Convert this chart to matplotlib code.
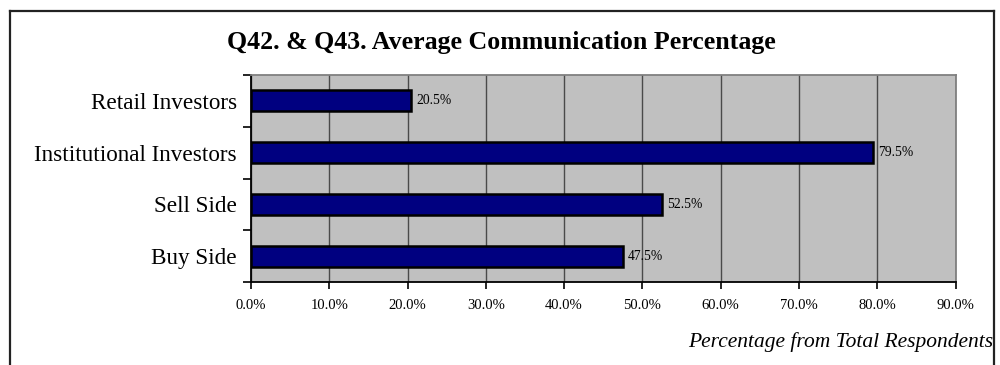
import matplotlib
matplotlib.use("Agg")
import matplotlib.pyplot as plt
from matplotlib.lines import Line2D
from matplotlib.ticker import MultipleLocator, FuncFormatter

categories = ["Retail Investors", "Institutional Investors", "Sell Side", "Buy Side"]
values = [20.5, 79.5, 52.5, 47.5]
title = "Q42. & Q43. Average Communication Percentage"
xlabel = "Percentage from Total Respondents"

plt.rcParams["font.family"] = ["Liberation Serif", "DejaVu Serif"]

W, H = 1000, 365
fig = plt.figure(figsize=(W / 100, H / 100), dpi=100)
fig.patch.set_facecolor("white")

# chart frame (open at the bottom)
frame_kw = dict(color="#222222", linewidth=1.6, transform=fig.transFigure)
fig.add_artist(Line2D([10 / W, 10 / W], [0, 1 - 11 / H], **frame_kw))
fig.add_artist(Line2D([10 / W, 994 / W], [1 - 11 / H, 1 - 11 / H], **frame_kw))
fig.add_artist(Line2D([994 / W, 994 / W], [0, 1 - 11 / H], **frame_kw))

left, right = 251 / W, 955.5 / W
top, bottom = 1 - 75 / H, 1 - 282 / H
ax = fig.add_axes([left, bottom, right - left, top - bottom])
ax.set_facecolor("#C0C0C0")

ypos = list(range(len(categories)))
ax.barh(ypos, values, height=0.41, color="#000080", edgecolor="black",
        linewidth=1.8, zorder=3)
for y, v in zip(ypos, values):
    ax.text(v + 0.6, y, f"{v:.1f}%", va="center", ha="left", fontsize=9.8,
            color="black", zorder=4)

ax.set_xlim(0, 90)
ax.set_ylim(len(categories) - 0.5, -0.5)
ax.xaxis.set_major_locator(MultipleLocator(10))
ax.xaxis.set_major_formatter(FuncFormatter(lambda x, p: f"{x:.1f}%"))
ax.grid(axis="x", color="#4a4a4a", linewidth=1.0, zorder=1)

# category ticks at band boundaries, labels centred on bars
ax.set_yticks([i - 0.5 for i in range(len(categories) + 1)])
ax.set_yticklabels([])
ax.set_yticks(ypos, minor=True)
ax.set_yticklabels(categories, minor=True, fontsize=16.7)
ax.tick_params(axis="y", which="minor", length=0, pad=10)
ax.tick_params(axis="y", which="major", length=5.5, width=1.2, direction="out")
ax.tick_params(axis="x", length=5, width=1.2, direction="out", labelsize=10.5, pad=7.5)

for side in ("left", "bottom"):
    ax.spines[side].set_color("black")
    ax.spines[side].set_linewidth(1.3)
for side in ("top", "right"):
    ax.spines[side].set_color("#808080")
    ax.spines[side].set_linewidth(1.3)

fig.text(501 / W, 1 - 43 / H, title, ha="center", va="center",
         fontsize=18.6, fontweight="bold")
fig.text(993 / W, 1 - 342 / H, xlabel, ha="right", va="center",
         fontsize=15.5, style="italic")

fig.savefig("out.png", dpi=100, facecolor="white")
